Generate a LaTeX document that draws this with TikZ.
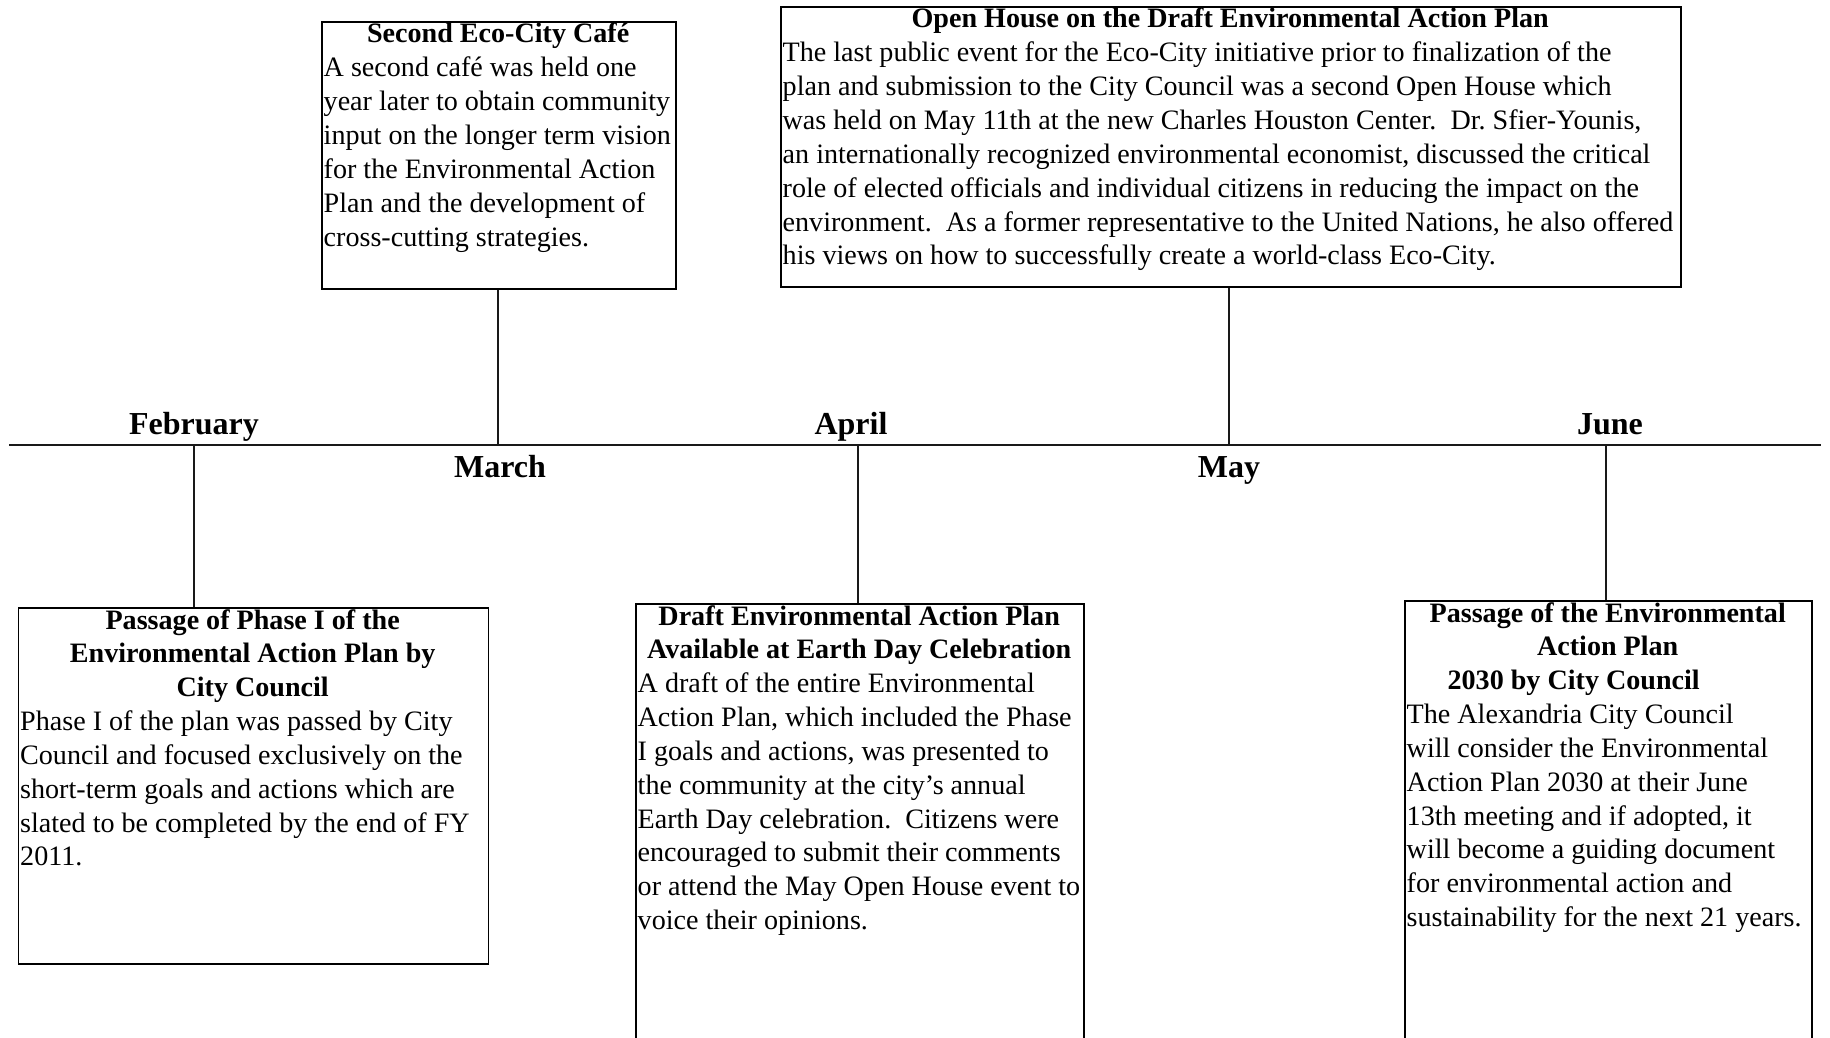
\documentclass[tikz,border=0pt]{standalone}
\usepackage{fontspec}
\setmainfont{Liberation Serif}
\begin{document}
\begin{tikzpicture}[x=1pt,y=-1pt,
  evbox/.style={draw=black, line width=1.5pt, rectangle, inner sep=0pt, anchor=north west},
  txt/.style={anchor=north west, inner sep=0pt, align=left, font=\fontsize{28.1}{33.85}\selectfont},
  month/.style={anchor=base, inner sep=0pt, font=\fontsize{32}{38}\selectfont\bfseries},
  link/.style={line width=2.4pt, draw=black!90},
  axis/.style={line width=2.8pt, draw=black!90}]
\clip (0,0) rectangle (1830,1037);
\fill[white] (0,0) rectangle (1830,1037);

% boxes
\node[evbox, minimum width=354pt, minimum height=267pt] (boxA) at (321,21) {};
\node[evbox, minimum width=900pt, minimum height=280pt] (boxB) at (780,6) {};
\node[evbox, minimum width=470pt, minimum height=356pt] (boxC) at (17.5,607) {};
\node[evbox, minimum width=448pt, minimum height=520pt] (boxD) at (635,603) {};
\node[evbox, minimum width=407pt, minimum height=520pt] (boxE) at (1404,600) {};

% texts
\node[txt] (textA) at ([xshift=2.5pt,yshift=-2pt]boxA.north west) {%
\makebox[349pt]{\bfseries Second Eco-City Café}\\
A second café was held one\\
year later to obtain community\\
input on the longer term vision\\
for the Environmental Action\\
Plan and the development of\\
cross-cutting strategies.};

\node[txt] (textB) at ([xshift=2.5pt,yshift=-2pt]boxB.north west) {%
\makebox[895pt]{\bfseries Open House on the Draft Environmental Action Plan}\\
The last public event for the Eco-City initiative prior to finalization of the\\
plan and submission to the City Council was a second Open House which\\
was held on May 11th at the new Charles Houston Center.\ \ Dr.\ Sfier-Younis,\\
an internationally recognized environmental economist, discussed the critical\\
role of elected officials and individual citizens in reducing the impact on the\\
environment.\ \ As a former representative to the United Nations, he also offered\\
his views on how to successfully create a world-class Eco-City.};

\node[txt] (textC) at ([xshift=2.5pt,yshift=-2pt]boxC.north west) {%
\makebox[465pt]{\bfseries Passage of Phase I of the}\\
\makebox[465pt]{\bfseries Environmental Action Plan by}\\
\makebox[465pt]{\bfseries City Council}\\
Phase I of the plan was passed by City\\
Council and focused exclusively on the\\
short-term goals and actions which are\\
slated to be completed by the end of FY\\
2011.};

\node[txt] (textD) at ([xshift=2.5pt,yshift=-2pt]boxD.north west) {%
\makebox[443pt]{\bfseries Draft Environmental Action Plan}\\
\makebox[443pt]{\bfseries Available at Earth Day Celebration}\\
A draft of the entire Environmental\\
Action Plan, which included the Phase\\
I goals and actions, was presented to\\
the community at the city’s annual\\
Earth Day celebration.\ \ Citizens were\\
encouraged to submit their comments\\
or attend the May Open House event to\\
voice their opinions.};

\node[txt] (textE) at ([xshift=2.5pt,yshift=-2pt]boxE.north west) {%
\makebox[402pt]{\bfseries Passage of the Environmental}\\
\makebox[402pt]{\bfseries Action Plan}\\
\makebox[402pt]{\bfseries 2030 by City Council\hspace*{68pt}}\\
The Alexandria City Council\\
will consider the Environmental\\
Action Plan 2030 at their June\\
13th meeting and if adopted, it\\
will become a guiding document\\
for environmental action and\\
sustainability for the next 21 years.};

% timeline
\coordinate (tl0) at (9,445);
\coordinate (tl1) at (1821,445);
\coordinate (tA) at (498,445);
\coordinate (tB) at (1229,445);
\coordinate (tC) at (194,445);
\coordinate (tD) at (858,445);
\coordinate (tE) at (1606,445);
\draw[axis] (tl0) -- (tl1);

\draw[link] (boxA.south -| tA) -- (tA);
\draw[link] (boxB.south -| tB) -- (tB);
\draw[link] (tC) -- (tC |- boxC.north);
\draw[link] (tD) -- (tD |- boxD.north);
\draw[link] (tE) -- (tE |- boxE.north);

% months
\node[month] (feb) at (194,434) {February};
\node[month] (mar) at (500,477) {March};
\node[month] (apr) at (851,434) {April};
\node[month] (may) at (1229,477) {May};
\node[month] (jun) at (1610,434) {June};
\end{tikzpicture}
\end{document}
